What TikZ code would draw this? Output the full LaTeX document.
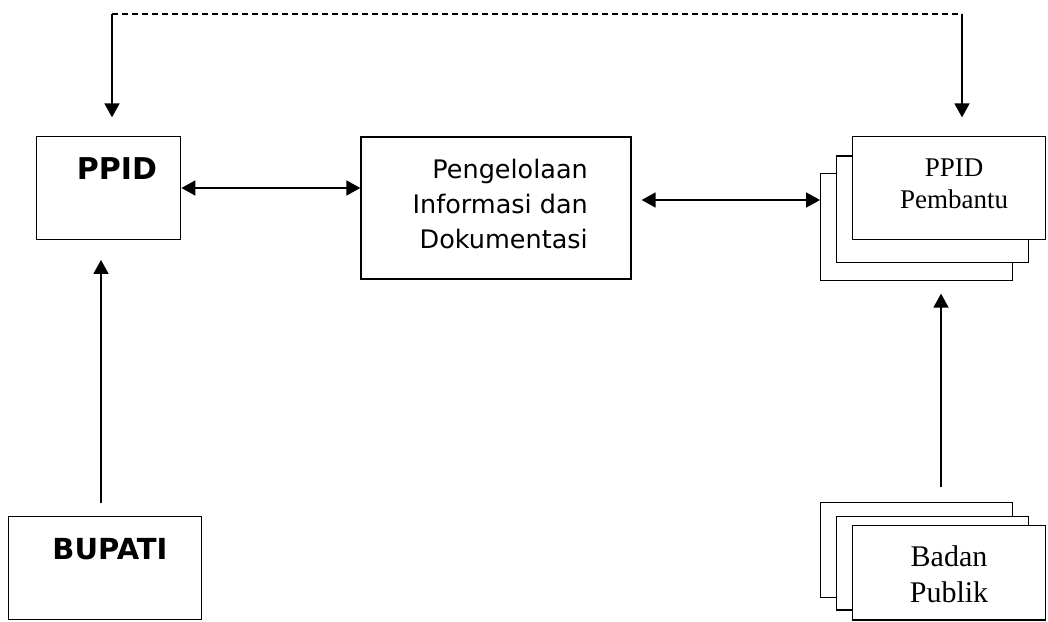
\documentclass[tikz,border=0pt]{standalone}
\usepackage{fontspec}
\usetikzlibrary{arrows.meta}
\newfontfamily\boxsans{DejaVu Sans}
\newfontfamily\boxserif{Liberation Serif}
\begin{document}
\begin{tikzpicture}[x=1pt,y=-1pt,
  box/.style={draw,line width=1.3pt,fill=white,rectangle,inner sep=0pt},
  arr/.style={line width=1.7pt,-{Triangle[length=14pt,width=15pt]}},
  darr/.style={line width=1.7pt,{Triangle[length=14pt,width=15pt]}-{Triangle[length=14pt,width=15pt]}},
  link/.style={line width=1.3pt,dash pattern=on 6pt off 4pt},
  lbl/.style={inner sep=0pt,anchor=base,align=center}]
\useasboundingbox (0,0) rectangle (1048,621);

% main boxes
\node[box,minimum width=144pt,minimum height=102.6pt] (ppid) at (108.7,188) {};
\node[box,minimum width=270pt,minimum height=142pt] (pid) at (496,208) {};
\node[box,minimum width=193pt,minimum height=102.6pt] (bupati) at (105.2,568) {};

% stacked boxes: PPID Pembantu
\node[box,minimum width=192pt,minimum height=107pt] (pb1) at (916.7,227.2) {};
\node[box,minimum width=192pt,minimum height=106.3pt] (pb2) at (932.7,209.2) {};
\node[box,minimum width=193.4pt,minimum height=102.6pt] (pb3) at (949,188) {};

% stacked boxes: Badan Publik
\node[box,minimum width=192pt,minimum height=94.6pt] (bp1) at (916.7,550) {};
\node[box,minimum width=192pt,minimum height=93.3pt] (bp2) at (932.7,563.4) {};
\node[box,minimum width=193.4pt,minimum height=94.3pt] (bp3) at (949,572.9) {};

% labels (multi-line labels are placed by the baseline of their last line)
\node[lbl,font=\boxsans\bfseries\fontsize{30}{36}\selectfont] (tppid) at (117,179.5) {PPID};
\node[lbl,font=\boxsans\bfseries\fontsize{29}{35}\selectfont] (tbupati) at (110,559.5) {BUPATI};
\node[inner sep=0pt,anchor=base east,align=right,font=\boxsans\fontsize{25.5}{35}\selectfont] (tpid) at (588,248) {Pengelolaan\\Informasi dan\\Dokumentasi};
\node[lbl,font=\boxserif\fontsize{27}{32}\selectfont] (tpb) at (954,208) {PPID\\Pembantu};
\node[lbl,font=\boxserif\fontsize{30}{36}\selectfont] (tbp) at (949,602) {Badan\\Publik};

% dashed feedback link
\coordinate (dl) at (112,14);
\coordinate (dr) at (962,14);
\coordinate (row) at (0,200);
\coordinate (cl) at (101,0);
\coordinate (cr) at (941,0);
\draw[link] (dl) -- (dr);
\draw[arr,shorten >=18.7pt] (dl) -- (dl |- ppid.north);
\draw[arr,shorten >=18.7pt] (dr) -- (dr |- pb3.north);

% horizontal connectors
\draw[darr] (ppid.east) -- (ppid.east -| pid.west);
\draw[darr,shorten <=10pt] (pid.east |- row) -- (pb1.west |- row);

% vertical connectors
\draw[arr,shorten <=12.7pt,shorten >=20pt] (cl |- bupati.north) -- (cl |- ppid.south);
\draw[arr,shorten <=15pt,shorten >=12.3pt] (cr |- bp1.north) -- (cr |- pb1.south);
\end{tikzpicture}
\end{document}
